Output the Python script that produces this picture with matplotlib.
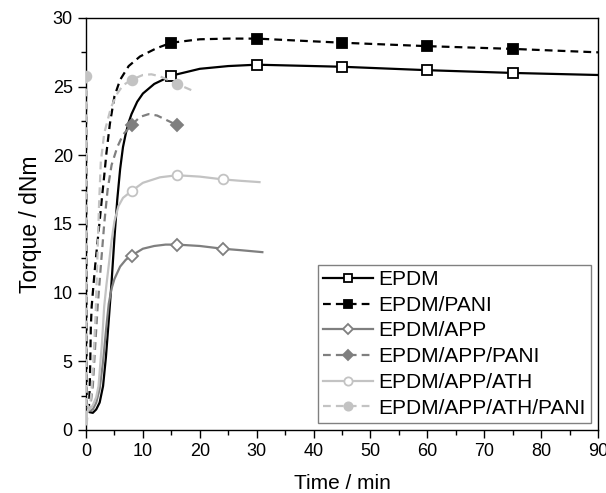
import matplotlib
matplotlib.use("Agg")
import matplotlib.pyplot as plt
from matplotlib.lines import Line2D
from matplotlib.ticker import MultipleLocator

plt.rcParams['font.family'] = ['Liberation Sans', 'DejaVu Sans']

# ---------------- data ----------------
epdm_t = [0.3, 0.6, 1.2, 1.8, 2.4, 3.0, 3.5, 4.0, 4.5, 5.0, 5.5, 6.0, 6.5, 7.0, 7.5,
          8.0, 9.0, 10.0, 12.0, 15.0, 20.0, 25.0, 30.0, 40.0, 45.0, 60.0, 75.0, 90.0]
epdm_y = [1.6, 1.3, 1.25, 1.5, 2.0, 3.2, 5.3, 8.0, 10.8, 14.0, 16.8, 19.0, 20.6, 21.6, 22.4,
          23.0, 23.9, 24.5, 25.2, 25.8, 26.3, 26.5, 26.6, 26.5, 26.45, 26.2, 26.0, 25.85]
epdm_marks = [15.0, 30.0, 45.0, 60.0, 75.0]

pani_t = [0.0, 0.12, 0.3, 0.5, 0.65, 0.75, 0.85, 1.0, 1.3, 1.6, 2.0, 2.4, 2.8, 3.2, 3.6,
          4.2, 5.0, 6.0, 7.5, 9.5, 12.4, 15.0, 20.0, 25.0, 30.0, 45.0, 60.0, 75.0, 90.0]
pani_y = [24.7, 1.5, 1.3, 1.5, 3.0, 5.0, 7.5, 9.0, 10.5, 11.9, 13.6, 15.2, 16.9, 18.5, 20.2,
          22.3, 24.3, 25.5, 26.5, 27.2, 27.8, 28.2, 28.45, 28.5, 28.5, 28.2, 27.95, 27.75, 27.5]
pani_marks = [15.0, 30.0, 45.0, 60.0, 75.0]

app_t = [0.3, 0.6, 1.2, 1.8, 2.4, 3.0, 3.5, 4.0, 4.5, 5.0, 6.0, 7.0, 8.0, 10.0, 12.0,
         14.0, 16.0, 20.0, 24.0, 27.0, 31.0]
app_y = [1.6, 1.4, 1.5, 2.0, 3.0, 5.0, 7.2, 9.2, 10.3, 11.0, 11.9, 12.4, 12.7, 13.2, 13.4,
         13.5, 13.5, 13.4, 13.2, 13.1, 12.95]
app_marks = [8.0, 16.0, 24.0]

app_pani_t = [0.3, 0.7, 1.2, 1.6, 2.0, 2.6, 3.2, 3.8, 4.5, 5.5, 6.5, 8.0, 9.5, 11.0,
              12.5, 14.0, 16.0]
app_pani_y = [1.8, 1.5, 3.2, 6.0, 8.7, 11.9, 15.0, 17.5, 19.3, 20.6, 21.5, 22.2, 22.8, 23.0,
              22.9, 22.6, 22.2]
app_pani_marks = [8.0, 16.0]

ath_t = [0.3, 0.6, 1.2, 1.8, 2.2, 2.8, 3.2, 3.6, 4.0, 4.5, 5.0, 5.7, 6.5, 8.0, 10.0,
         13.0, 16.0, 20.0, 24.0, 27.0, 30.5]
ath_y = [1.8, 1.5, 1.8, 2.4, 3.2, 6.3, 9.0, 10.6, 12.0, 13.8, 15.2, 16.3, 16.9, 17.4, 18.0,
         18.4, 18.55, 18.45, 18.25, 18.15, 18.05]
ath_marks = [8.0, 16.0, 24.0]

ath_pani_t = [0.0, 0.12, 0.35, 0.6, 0.9, 1.3, 1.7, 2.0, 2.3, 2.6, 3.2, 4.4, 5.5, 6.5,
              8.0, 10.0, 11.5, 13.0, 16.0, 18.5]
ath_pani_y = [25.8, 0.4, 1.5, 1.5, 2.5, 5.0, 8.5, 12.5, 16.5, 19.5, 21.6, 23.5, 24.5, 25.1,
              25.5, 25.85, 25.9, 25.75, 25.2, 24.75]
ath_pani_marks = [0.0, 8.0, 16.0]

labels = ["EPDM", "EPDM/PANI", "EPDM/APP", "EPDM/APP/PANI", "EPDM/APP/ATH",
          "EPDM/APP/ATH/PANI"]

# ---------------- styles ----------------
GRAY = "#7f7f7f"
LGRAY = "#c3c3c3"
DASH = (0, (3.5, 2.3))
styles = [
    dict(color="black", ls="-", marker="s", mfc="white", mec="black", ms=6.5),
    dict(color="black", ls=DASH, marker="s", mfc="black", mec="black", ms=6.5),
    dict(color=GRAY, ls="-", marker="D", mfc="white", mec=GRAY, ms=6.0),
    dict(color=GRAY, ls=DASH, marker="D", mfc=GRAY, mec=GRAY, ms=6.0),
    dict(color=LGRAY, ls="-", marker="o", mfc="white", mec=LGRAY, ms=7.0),
    dict(color=LGRAY, ls=DASH, marker="o", mfc=LGRAY, mec=LGRAY, ms=7.0),
]
series = [(epdm_t, epdm_y, epdm_marks), (pani_t, pani_y, pani_marks),
          (app_t, app_y, app_marks), (app_pani_t, app_pani_y, app_pani_marks),
          (ath_t, ath_y, ath_marks), (ath_pani_t, ath_pani_y, ath_pani_marks)]

fig = plt.figure(figsize=(6.06, 4.93), dpi=100)
ax = fig.add_axes([86 / 606, 1 - 430 / 493, (598 - 86) / 606, (430 - 18) / 493])

order = [4, 5, 2, 3, 0, 1]
handles = [None] * 6
for i in order:
    t, y, marks = series[i]
    st = styles[i]
    idx = [t.index(m) for m in marks]
    ax.plot(t, y, color=st["color"], ls=st["ls"], lw=1.6, marker=st["marker"],
            mfc=st["mfc"], mec=st["mec"], ms=st["ms"], mew=1.3, markevery=idx,
            zorder=3 + i)
    handles[i] = Line2D([], [], color=st["color"], ls=st["ls"], lw=1.6,
                        marker=st["marker"], mfc=st["mfc"], mec=st["mec"],
                        ms=st["ms"] * 0.85, mew=1.3)

ax.set_xlim(0, 90)
ax.set_ylim(0, 30)
ax.xaxis.set_major_locator(MultipleLocator(10))
ax.xaxis.set_minor_locator(MultipleLocator(5))
ax.yaxis.set_major_locator(MultipleLocator(5))
ax.yaxis.set_minor_locator(MultipleLocator(2.5))
ax.tick_params(which="both", direction="out", top=False, right=False,
               labelsize=13, width=1.0)
ax.tick_params(which="major", length=6)
ax.tick_params(which="minor", length=3.5)
for s in ax.spines.values():
    s.set_linewidth(1.0)

ax.set_xlabel("Time / min", fontsize=15, labelpad=10)
ax.set_ylabel("Torque / dNm", fontsize=16.5, labelpad=8)

leg = ax.legend(handles, labels, loc="lower right", bbox_to_anchor=(1, 0),
                fontsize=15, frameon=True, fancybox=False, edgecolor="#808080",
                framealpha=1, handlelength=2.4, handletextpad=0.25,
                labelspacing=0.32, borderpad=0.25, borderaxespad=0.35,
                numpoints=1)
leg.get_frame().set_linewidth(1.0)

fig.savefig("out.png", dpi=100)
